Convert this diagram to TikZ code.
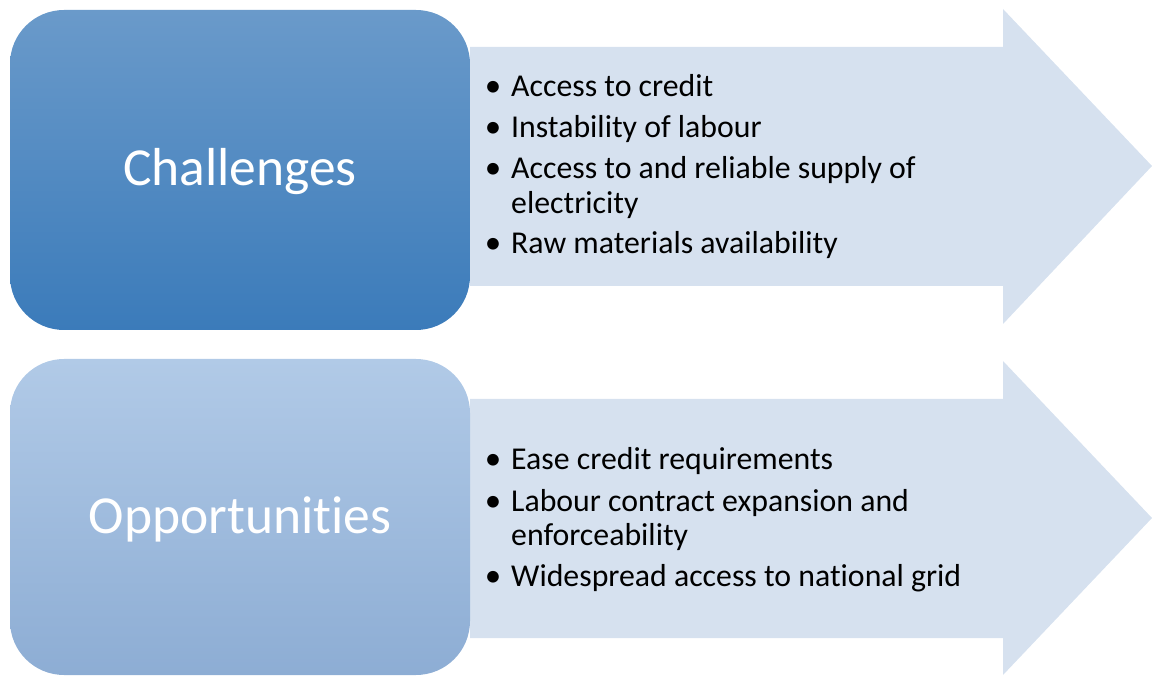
\documentclass[tikz,border=0pt]{standalone}
\usepackage{fontspec}
\setmainfont{Carlito}[Ligatures=NoCommon]
\definecolor{arrowfill}{HTML}{D6E1EF}
\definecolor{ctop}{HTML}{6A9ACA}
\definecolor{cbot}{HTML}{3B7BBA}
\definecolor{otop}{HTML}{B1CAE7}
\definecolor{obot}{HTML}{8DADD4}
\tikzset{
  box/.style={rounded corners=54pt, minimum width=460pt, minimum height=320pt, inner sep=0pt},
  title/.style={anchor=base, inner sep=0pt, text=white, font=\fontsize{53.5}{60}\selectfont},
  arr/.style={fill=arrowfill, draw=none},
  itemtext/.style={anchor=base west, inner sep=0pt, font=\fontsize{31.8}{36}\selectfont, text=black},
  bul/.style={anchor=base, inner sep=0pt, font=\fontsize{33}{36}\selectfont, text=black}
}
\begin{document}
\begin{tikzpicture}[x=1pt,y=-1pt]
\useasboundingbox (0,0) rectangle (1152,676);
% arrows
\path[arr] (470,47) -- (1003,47) -- (1003,9) -- (1152,166) -- (1003,324) -- (1003,286) -- (470,286) -- cycle;
\path[arr] (470,399) -- (1003,399) -- (1003,361) -- (1152,518) -- (1003,675) -- (1003,638) -- (470,638) -- cycle;
% boxes
\node[box, top color=ctop, bottom color=cbot] (chal) at (240,170) {};
\node[title] (chalt) at (240,186) {Challenges};
\node[box, minimum height=316pt, top color=otop, bottom color=obot] (opp) at (240,517) {};
\node[title] (oppt) at (240,533) {Opportunities};
% challenges list
\node[bul] (cb1) at (493,97) {\textbullet};
\node[itemtext] (ct1) at (511,97) {Access to credit};
\node[bul] (cb2) at (493,138) {\textbullet};
\node[itemtext] (ct2) at (511,138) {Instability of labour};
\node[bul] (cb3) at (493,179) {\textbullet};
\node[itemtext] (ct3) at (511,179) {Access to and reliable supply of};
\node[itemtext] (ct3b) at (511,214) {electricity};
\node[bul] (cb4) at (493,254) {\textbullet};
\node[itemtext] (ct4) at (511,254) {Raw materials availability};
% opportunities list
\node[bul] (ob1) at (493,469) {\textbullet};
\node[itemtext] (ot1) at (511,469) {Ease credit requirements};
\node[bul] (ob2) at (493,511) {\textbullet};
\node[itemtext] (ot2) at (511,511) {Labour contract expansion and};
\node[itemtext] (ot2b) at (511,545) {enforceability};
\node[bul] (ob3) at (493,586) {\textbullet};
\node[itemtext] (ot3) at (511,586) {Widespread access to national grid};
\end{tikzpicture}
\end{document}
